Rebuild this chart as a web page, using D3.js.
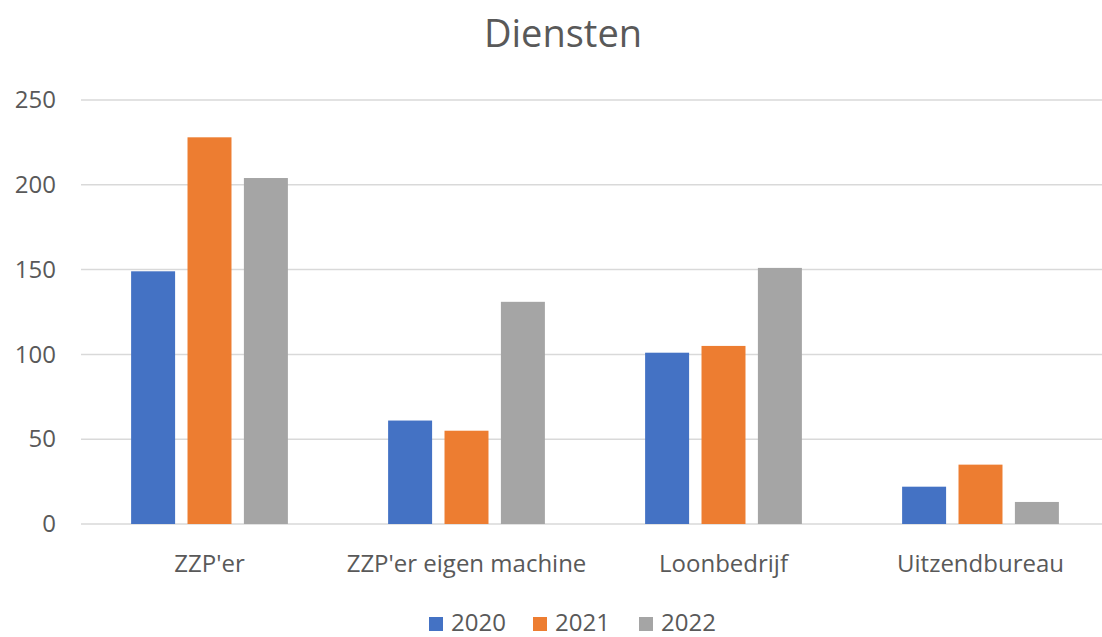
<!DOCTYPE html>
<html>
<head>
<meta charset="utf-8">
<script src="https://cdn.jsdelivr.net/npm/d3@7"></script>
<style>
  body { margin: 0; background: #fff; overflow: hidden; }
  text { font-family: "Open Sans", sans-serif; fill: #595959; }
</style>
</head>
<body>
<div id="chart"></div>
<script>
var categories = ["ZZP'er", "ZZP'er eigen machine", "Loonbedrijf", "Uitzendbureau"];
var years = ["2020", "2021", "2022"];
var values2020 = [149, 61, 101, 22];
var values2021 = [228, 55, 105, 35];
var values2022 = [204, 131, 151, 13];
var yTicks = [0, 50, 100, 150, 200, 250];
var colors = ["#4472C4", "#ED7D31", "#A5A5A5"];

var series = [values2020, values2021, values2022];
var rows = categories.map(function(c, i) {
  return { cat: c, vals: years.map(function(yr, j) { return { year: yr, v: series[j][i], k: j }; }) };
});

var W = 1102, H = 637;
// the plot runs a bit past the right edge, like the cropped original
var plotLeft = 81, plotRight = 1109, plotTop = 100, plotBottom = 524;

var svg = d3.select("#chart").append("svg")
  .attr("width", W)
  .attr("height", H);

var x0 = d3.scaleBand().domain(categories).range([plotLeft, plotRight])
  .paddingInner(0.39).paddingOuter(0.195);
var x1 = d3.scaleBand().domain(years).range([0, x0.bandwidth()]).paddingInner(0.22);
var y = d3.scaleLinear().domain([0, 250]).range([plotBottom, plotTop]);

// gridlines
svg.append("g")
  .selectAll("line")
  .data(yTicks)
  .enter().append("line")
  .attr("x1", plotLeft).attr("x2", plotRight)
  .attr("y1", function(d) { return y(d); })
  .attr("y2", function(d) { return y(d); })
  .attr("stroke", "#D9D9D9")
  .attr("stroke-width", 1.5);

// y axis labels
var yAxis = d3.axisLeft(y).tickValues(yTicks).tickSize(0).tickPadding(0);
svg.append("g")
  .attr("transform", "translate(56,0)")
  .call(yAxis)
  .call(function(g) { g.select(".domain").remove(); })
  .selectAll("text")
  .attr("font-size", 24)
  .attr("font-family", "Open Sans, sans-serif")
  .attr("fill", "#595959");

// bars
var groups = svg.append("g").selectAll("g")
  .data(rows)
  .enter().append("g")
  .attr("transform", function(d) { return "translate(" + x0(d.cat) + ",0)"; });

groups.selectAll("rect")
  .data(function(d) { return d.vals; })
  .enter().append("rect")
  .attr("x", function(d) { return x1(d.year); })
  .attr("y", function(d) { return y(d.v); })
  .attr("width", x1.bandwidth())
  .attr("height", function(d) { return y(0) - y(d.v); })
  .attr("fill", function(d) { return colors[d.k]; });

// x axis labels
var xAxis = d3.axisBottom(x0).tickSize(0).tickPadding(0);
svg.append("g")
  .attr("transform", "translate(0,555)")
  .call(xAxis)
  .call(function(g) { g.select(".domain").remove(); })
  .selectAll("text")
  .attr("font-size", 24)
  .attr("font-family", "Open Sans, sans-serif")
  .attr("fill", "#595959");

// title
svg.append("text")
  .attr("x", 563).attr("y", 47)
  .attr("text-anchor", "middle")
  .attr("font-size", 38)
  .text("Diensten");

// legend
var legendX = [429, 533, 639];
var legend = svg.append("g").selectAll("g")
  .data(years)
  .enter().append("g")
  .attr("transform", function(d, i) { return "translate(" + legendX[i] + ",617)"; });
legend.append("rect")
  .attr("width", 14).attr("height", 14)
  .attr("fill", function(d, i) { return colors[i]; });
legend.append("text")
  .attr("x", 22).attr("y", 14)
  .attr("font-size", 24)
  .text(function(d) { return d; });
</script>
</body>
</html>
